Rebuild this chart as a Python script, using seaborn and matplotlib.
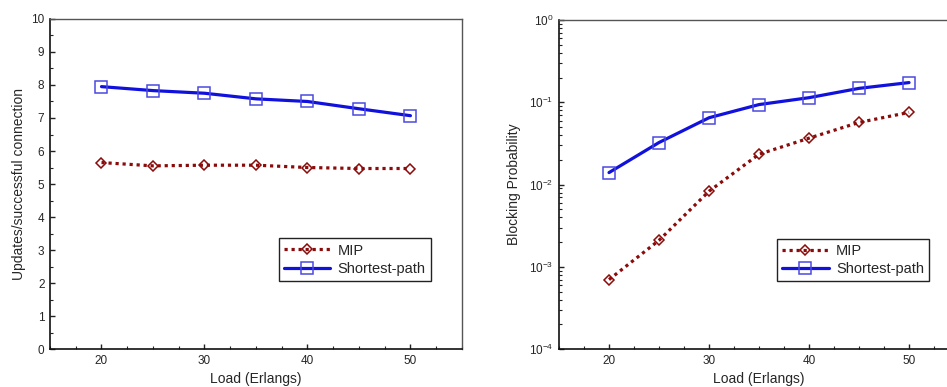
import numpy as np
import pandas as pd
import matplotlib
matplotlib.use("Agg")
import matplotlib.pyplot as plt
import seaborn as sns
from matplotlib.ticker import MultipleLocator, LogLocator, NullFormatter

load = [20, 25, 30, 35, 40, 45, 50]
updates_mip = [5.65, 5.55, 5.57, 5.57, 5.50, 5.47, 5.47]
updates_sp = [7.95, 7.83, 7.75, 7.58, 7.50, 7.28, 7.07]
block_mip = [0.0007, 0.0021, 0.0083, 0.0234, 0.0367, 0.057, 0.0755]
block_sp = [0.0140, 0.0325, 0.065, 0.094, 0.114, 0.148, 0.174]
series_names = ["MIP", "Shortest-path"]

sns.set_style("ticks")
plt.rcParams['font.family'] = ['Liberation Sans', 'DejaVu Sans']

df_upd = pd.DataFrame({
    "Load": load * 2,
    "val": updates_mip + updates_sp,
    "Method": [series_names[0]] * len(load) + [series_names[1]] * len(load),
})
df_blk = pd.DataFrame({
    "Load": load * 2,
    "val": block_mip + block_sp,
    "Method": [series_names[0]] * len(load) + [series_names[1]] * len(load),
})

fig = plt.figure(figsize=(9.47, 3.87), dpi=100)
ax1 = fig.add_axes([0.0528, 0.098, 0.435, 0.853])
ax2 = fig.add_axes([0.5903, 0.098, 0.4224, 0.850])

styles = {
    "MIP": dict(color="#8b0a0a", ls=(0, (1, 1.2)), marker="D", ms=5.5, mec="#8b0a0a"),
    "Shortest-path": dict(color="#1111dd", ls="-", marker="s", ms=8.5, mec="#4a4ae0"),
}

for ax, df in [(ax1, df_upd), (ax2, df_blk)]:
    sns.lineplot(data=df, x="Load", y="val", hue="Method", ax=ax,
                 palette={k: v["color"] for k, v in styles.items()}, legend=False)
    for line, name in zip(ax.get_lines(), series_names):
        s = styles[name]
        line.set_linestyle(s["ls"])
        line.set_linewidth(2.3)
        line.set_marker(s["marker"])
        line.set_markersize(s["ms"])
        line.set_markerfacecolor("none")
        line.set_markeredgecolor(s["mec"])
        line.set_markeredgewidth(1.1)
    ax.set_xlim(15, 55)
    ax.xaxis.set_major_locator(MultipleLocator(10))
    ax.xaxis.set_minor_locator(MultipleLocator(2.5))
    ax.set_xlabel("Load (Erlangs)", fontsize=10, labelpad=4)
    ax.tick_params(which="both", direction="in", labelsize=8.5, color="#222222",
                   bottom=True, left=True, top=False, right=False, pad=4)
    ax.tick_params(which="major", length=3.5, width=1.0)
    ax.tick_params(which="minor", length=2, width=0.8)
    for side in ["left", "bottom"]:
        ax.spines[side].set_color("#111111")
        ax.spines[side].set_linewidth(1.2)
    for side in ["top", "right"]:
        ax.spines[side].set_visible(True)
        ax.spines[side].set_color("#555555")
        ax.spines[side].set_linewidth(1.0)
    handles = [plt.Line2D([], [], color=styles[n]["color"], ls=styles[n]["ls"], lw=2.3,
                          marker=styles[n]["marker"], ms=styles[n]["ms"], mfc="none",
                          mec=styles[n]["mec"], mew=1.1) for n in series_names]
    leg = ax.legend(handles, series_names, loc="upper left",
                    bbox_to_anchor=(0.555 if ax is ax1 else 0.545, 0.335),
                    fontsize=10.5, frameon=True, fancybox=False, framealpha=1,
                    edgecolor="#222222", handlelength=3.2, borderpad=0.35,
                    labelspacing=0.3, handletextpad=0.5, borderaxespad=0)
    leg.get_frame().set_linewidth(1.0)

ax1.set_ylim(0, 10)
ax1.yaxis.set_major_locator(MultipleLocator(1))
ax1.yaxis.set_minor_locator(MultipleLocator(0.5))
ax1.set_ylabel("Updates/successful connection", fontsize=10, labelpad=4)

ax2.set_yscale("log")
ax2.set_ylim(1e-4, 1)
ax2.yaxis.set_major_locator(LogLocator(base=10))
ax2.yaxis.set_minor_locator(LogLocator(base=10, subs=np.arange(2, 10)))
ax2.yaxis.set_minor_formatter(NullFormatter())
ax2.set_ylabel("Blocking Probability", fontsize=10, labelpad=6)

fig.savefig("out.png", dpi=100)
